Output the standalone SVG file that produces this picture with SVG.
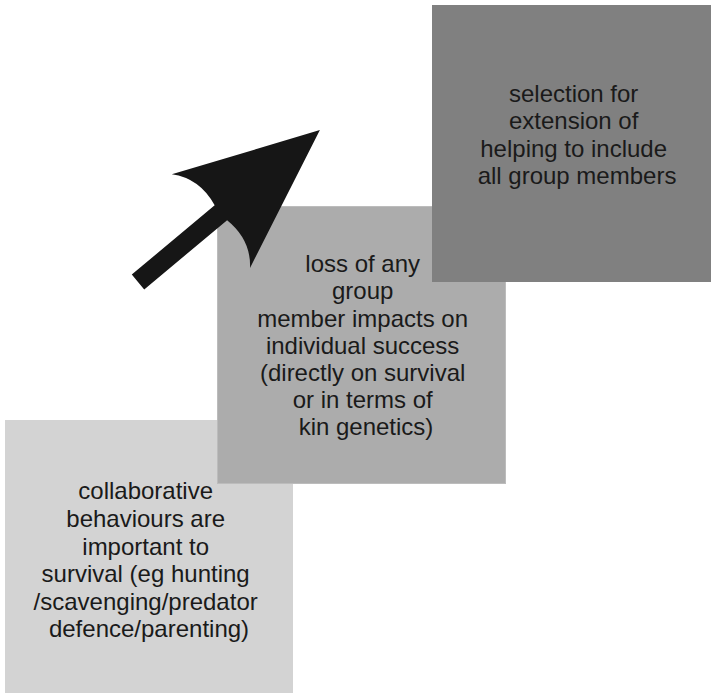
<svg xmlns="http://www.w3.org/2000/svg" width="711" height="693" viewBox="0 0 711 693">
  <style>
    .lbl { font-family: "Liberation Sans", Arial, sans-serif; font-size: 24px; fill: #1a1a1a; text-anchor: middle; }
    .b1 { fill: #d3d3d3; }
    .b2 { fill: #acacac; stroke: #bcbcbc; stroke-width: 1; }
    .b3 { fill: #808080; }
  </style>
  <rect width="711" height="693" fill="#ffffff"/>

  <!-- step 1 -->
  <g id="collaborative">
    <rect class="b1" x="5" y="420" width="288" height="273"/>
    <text class="lbl">
      <tspan x="149" y="499">collaborative</tspan>
      <tspan x="149" y="527">behaviours are</tspan>
      <tspan x="149" y="555">important to</tspan>
      <tspan x="149" y="582">survival (eg hunting</tspan>
      <tspan x="149" y="610">/scavenging/predator</tspan>
      <tspan x="149" y="637">defence/parenting)</tspan>
    </text>
  </g>

  <!-- step 2 -->
  <g id="loss">
    <rect class="b2" x="217.5" y="206.5" width="288" height="277"/>
    <text class="lbl">
      <tspan x="366" y="272">loss of any</tspan>
      <tspan x="366" y="299">group</tspan>
      <tspan x="366" y="327">member impacts on</tspan>
      <tspan x="366" y="354">individual success</tspan>
      <tspan x="366" y="381">(directly on survival</tspan>
      <tspan x="366" y="408">or in terms of</tspan>
      <tspan x="366" y="435">kin genetics)</tspan>
    </text>
  </g>

  <!-- step 3 -->
  <g id="selection">
    <rect class="b3" x="432" y="5" width="279" height="277"/>
    <text class="lbl">
      <tspan x="577" y="102">selection for</tspan>
      <tspan x="577" y="129">extension of</tspan>
      <tspan x="577" y="157">helping to include</tspan>
      <tspan x="577" y="184">all group members</tspan>
    </text>
  </g>

  <!-- progression arrow -->
  <g id="connectors">
    <path transform="translate(138,282) rotate(-39.87)" fill="#161616"
          d="M0,-9.7 L108,-9.7 Q114,-40 95,-61 L237,0 L95,61 Q114,40 108,9.7 L0,9.7 Z"/>
  </g>
</svg>
